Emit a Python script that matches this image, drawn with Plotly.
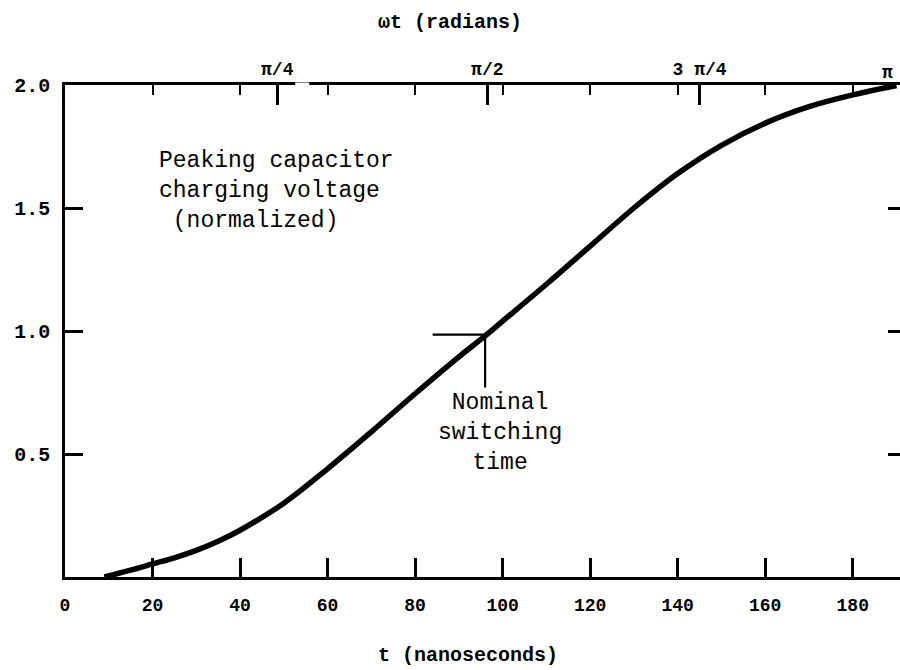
import plotly.graph_objects as go

# ---- data ----
t_ns = [9, 15, 20, 25, 30, 35, 40, 50, 60, 70, 80, 90, 96, 100, 110, 120, 130, 140, 150, 160, 170, 180, 190]
voltage = [0.0, 0.028, 0.053, 0.078, 0.108, 0.145, 0.19, 0.30, 0.44, 0.59, 0.745, 0.895, 0.98, 1.04,
           1.19, 1.345, 1.50, 1.64, 1.755, 1.845, 1.912, 1.96, 1.998]

x_tickvals = [0, 20, 40, 60, 80, 100, 120, 140, 160, 180]
x_ticktext = ["0", "20", "40", "60", "80", "100", "120", "140", "160", "180"]
y_tickvals = [0.5, 1.0, 1.5, 2.0]
y_ticktext = ["0.5", "1.0", "1.5", "2.0"]

top_major_vals = [48.5, 96.5, 145]
top_major_text = ["\u03c0/4", "\u03c0/2", "3 \u03c0/4"]
top_minor_vals = [20, 40, 60, 80, 100, 120, 140, 160, 180]
pi_label_t = 188
top_gap = [52.6, 55.8]

# nominal switching time marker (t, value)
marker_t = [84, 96, 96]
marker_v = [0.985, 0.985, 0.77]

FONT = "Liberation Mono"
INK = "#000000"

fig = go.Figure()
fig.add_trace(go.Scatter(x=t_ns, y=voltage, mode="lines",
                         line=dict(color=INK, width=5.5, shape="spline", smoothing=1.0),
                         hoverinfo="skip", showlegend=False))
fig.add_trace(go.Scatter(x=marker_t, y=marker_v, mode="lines", xaxis="x2", yaxis="y2",
                         line=dict(color=INK, width=2.2), hoverinfo="skip", showlegend=False))

fig.update_layout(
    width=900, height=670, autosize=False,
    margin=dict(l=65, r=0, t=85, b=93, autoexpand=False),
    paper_bgcolor="white", plot_bgcolor="white",
    showlegend=False,
    xaxis=dict(range=[0, 190.8], tickvals=x_tickvals, ticktext=x_ticktext, automargin=False,
               ticks="inside", ticklen=19, tickwidth=2.5, tickcolor=INK,
               showline=True, linecolor=INK, linewidth=2.5,
               showgrid=False, zeroline=False, ticklabelstandoff=10,
               tickfont=dict(family=FONT, size=18, color=INK, weight="bold")),
    yaxis=dict(range=[0, 2.0], tickvals=y_tickvals, ticktext=y_ticktext, automargin=False,
               ticks="inside", ticklen=18, tickwidth=2.5, tickcolor=INK,
               showline=True, linecolor=INK, linewidth=2.5,
               showgrid=False, zeroline=False, ticklabelstandoff=8,
               tickfont=dict(family=FONT, size=20, color=INK, weight="bold")),
    xaxis2=dict(overlaying="x", side="top", matches="x", automargin=False,
                tickvals=top_major_vals, ticktext=top_major_text,
                ticks="inside", ticklen=20, tickwidth=2.5, tickcolor=INK,
                minor=dict(tickvals=top_minor_vals, ticks="inside", ticklen=10,
                           tickwidth=2.2, tickcolor=INK),
                showline=True, linecolor=INK, linewidth=2.5,
                showgrid=False, zeroline=False, ticklabelstandoff=0,
                tickfont=dict(family=FONT, size=18, color=INK, weight="bold")),
    yaxis2=dict(overlaying="y", side="right", matches="y", automargin=False,
                tickvals=[0.5, 1.0, 1.5], showticklabels=False,
                ticks="inside", ticklen=12, tickwidth=2.5, tickcolor=INK,
                showline=False, showgrid=False, zeroline=False),
)

# small break in the top frame line, as in the original drawing
fig.add_shape(type="line", x0=top_gap[0], x1=top_gap[1], xref="x", y0=1, y1=1, yref="paper",
              line=dict(color="white", width=5), layer="above")

fig.add_annotation(text="\u03c0", x=pi_label_t, xref="x", y=1.0, yref="paper",
                   yanchor="bottom", yshift=0, showarrow=False,
                   font=dict(family=FONT, size=18, color=INK, weight="bold"))
fig.add_annotation(text="\u03c9t (radians)", x=88, xref="x", y=1.128, yref="paper",
                   yanchor="middle", showarrow=False,
                   font=dict(family=FONT, size=20, color=INK, weight="bold"))
fig.add_annotation(text="t (nanoseconds)", x=92, xref="x", y=-0.159, yref="paper",
                   yanchor="middle", showarrow=False,
                   font=dict(family=FONT, size=20, color=INK, weight="bold"))
fig.add_annotation(text="Peaking capacitor<br>charging voltage<br>\u00a0(normalized)",
                   x=21, xref="x", y=1.57, yref="y", xanchor="left", align="left",
                   showarrow=False, font=dict(family=FONT, size=23, color=INK))
fig.add_annotation(text="Nominal<br>switching<br>time",
                   x=99.5, xref="x", y=0.585, yref="y", align="center",
                   showarrow=False, font=dict(family=FONT, size=23, color=INK))

fig.write_html("out.html", config={"displayModeBar": False},
               post_script="document.body.style.margin='0';document.body.style.overflow='hidden';")
